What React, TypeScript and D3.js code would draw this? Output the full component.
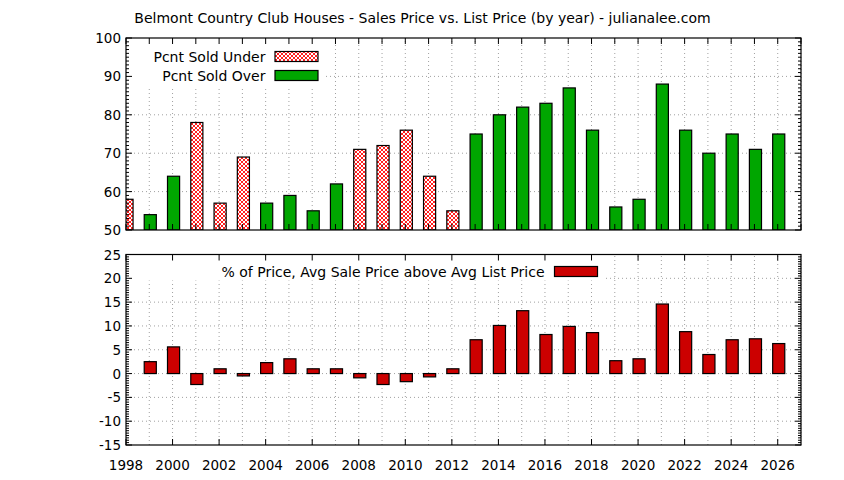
import { useMemo } from "react";
import * as d3 from "d3";

// top panel: percent of houses sold under / over list, per year
const years = [
  1998, 1999, 2000, 2001, 2002, 2003, 2004, 2005, 2006, 2007, 2008, 2009, 2010, 2011, 2012,
  2013, 2014, 2015, 2016, 2017, 2018, 2019, 2020, 2021, 2022, 2023, 2024, 2025, 2026,
];
const pcntSold = [
  58, 54, 64, 78, 57, 69, 57, 59, 55, 62, 71, 72, 76, 64, 55,
  75, 80, 82, 83, 87, 76, 56, 58, 88, 76, 70, 75, 71, 75,
];
const soldKind = [
  "under", "over", "over", "under", "under", "under", "over", "over", "over", "over",
  "under", "under", "under", "under", "under",
  "over", "over", "over", "over", "over", "over", "over", "over", "over", "over", "over", "over", "over", "over",
];

// bottom panel: avg sale price above avg list price, %
const premiumYears = [
  1999, 2000, 2001, 2002, 2003, 2004, 2005, 2006, 2007, 2008, 2009, 2010, 2011, 2012,
  2013, 2014, 2015, 2016, 2017, 2018, 2019, 2020, 2021, 2022, 2023, 2024, 2025, 2026,
];
const premiumPct = [
  2.5, 5.6, -2.3, 1.0, -0.5, 2.3, 3.1, 1.0, 1.0, -0.9, -2.3, -1.7, -0.7, 1.0,
  7.1, 10.1, 13.2, 8.2, 9.9, 8.6, 2.7, 3.1, 14.6, 8.8, 4.0, 7.1, 7.3, 6.3,
];

const topTicks = [50, 60, 70, 80, 90, 100];
const bottomTicks = [-15, -10, -5, 0, 5, 10, 15, 20, 25];
const xLabels = [1998, 2000, 2002, 2004, 2006, 2008, 2010, 2012, 2014, 2016, 2018, 2020, 2022, 2024, 2026];

const TITLE = "Belmont Country Club Houses - Sales Price vs. List Price (by year) - julianalee.com";
const FONT = "'DejaVu Sans', sans-serif";
const GREEN = "#00a600";
const RED = "#cc0000";
const GRID = "#a0a0a0";

const W = 844;
const H = 480;
const L = 126;
const R = 801;

export default function App() {
  const x = useMemo(() => d3.scaleLinear([1998, 2027], [L, R]), []);
  const yTop = useMemo(() => d3.scaleLinear([50, 100], [230, 38]), []);
  const yBot = useMemo(() => d3.scaleLinear([-15, 25], [445, 254.5]), []);
  const bw = x(1998.26) - x(1997.74);
  const allYears = d3.range(1998, 2028);

  const topMinor = d3.range(50, 101, 1);
  const botMinor = d3.range(-15, 25.01, 0.5);

  return (
    <svg
      width={W}
      height={H}
      style={{ position: "absolute", left: 0, top: 0, background: "#fff" }}
      fontFamily={FONT}
    >
      <defs>
        <pattern id="xhatch" width={4} height={4} patternUnits="userSpaceOnUse">
          <rect width={4} height={4} fill="#fff" />
          <path d="M0,0 L4,4 M4,0 L0,4" stroke="#ff2020" strokeWidth={1} />
        </pattern>
        <clipPath id="clipTop">
          <rect x={L} y={yTop(100)} width={R - L} height={yTop(50) - yTop(100)} />
        </clipPath>
        <clipPath id="clipBot">
          <rect x={L} y={yBot(25)} width={R - L} height={yBot(-15) - yBot(25)} />
        </clipPath>
      </defs>
      <rect width={W} height={H} fill="#fff" />

      <text x={W / 2 + 0.5} y={23} fontSize={14} textAnchor="middle" fill="#000">
        {TITLE}
      </text>

      {/* ---------- top panel ---------- */}
      <g>
        {allYears.slice(1).map((yr) => (
          <line key={`gv${yr}`} x1={x(yr)} x2={x(yr)} y1={yTop(50)} y2={yTop(100)}
            stroke={GRID} strokeDasharray="1,3" />
        ))}
        {topTicks.slice(1, -1).map((t) => (
          <line key={`gh${t}`} x1={L} x2={R} y1={yTop(t)} y2={yTop(t)}
            stroke={GRID} strokeDasharray="1,3" />
        ))}
        {/* legend area is opaque */}
        <rect x={L + 1} y={yTop(100) + 1} width={199} height={49} fill="#fff" />

        <g clipPath="url(#clipTop)">
          {years.map((yr, i) => (
            <rect key={`b${yr}`} x={x(yr) - bw / 2 + 1} y={yTop(pcntSold[i])} width={bw}
              height={yTop(50) - yTop(pcntSold[i])}
              fill={soldKind[i] === "under" ? "url(#xhatch)" : GREEN}
              stroke="#000" strokeWidth={1.2} />
          ))}
        </g>

        {allYears.map((yr) => (
          <g key={`tx${yr}`}>
            <line x1={x(yr)} x2={x(yr)} y1={yTop(50)} y2={yTop(50) - 6} stroke="#000" />
            <line x1={x(yr)} x2={x(yr)} y1={yTop(100)} y2={yTop(100) + 6} stroke="#000" />
          </g>
        ))}
        {topMinor.map((t) => {
          const len = t % 10 === 0 ? 6 : 3;
          return (
            <g key={`ty${t}`}>
              <line x1={L} x2={L + len} y1={yTop(t)} y2={yTop(t)} stroke="#000" />
              <line x1={R} x2={R - len} y1={yTop(t)} y2={yTop(t)} stroke="#000" />
            </g>
          );
        })}
        {topTicks.map((t) => (
          <text key={`tl${t}`} x={L - 5} y={yTop(t) + 5} fontSize={13.5} textAnchor="end" fill="#000">
            {t}
          </text>
        ))}
        <rect x={L} y={yTop(100)} width={R - L} height={yTop(50) - yTop(100)}
          fill="none" stroke="#000" strokeWidth={1.2} />

        <text x={265.5} y={61.5} fontSize={14} textAnchor="end" fill="#000">Pcnt Sold Under</text>
        <rect x={275} y={51.5} width={43} height={10} fill="url(#xhatch)" stroke="#000" strokeWidth={1.2} />
        <text x={265.5} y={80.5} fontSize={14} textAnchor="end" fill="#000">Pcnt Sold Over</text>
        <rect x={275} y={70.5} width={43} height={10} fill={GREEN} stroke="#000" strokeWidth={1.2} />
      </g>

      {/* ---------- bottom panel ---------- */}
      <g>
        {allYears.slice(1).map((yr) => (
          <line key={`bgv${yr}`} x1={x(yr)} x2={x(yr)} y1={yBot(-15)} y2={yBot(25)}
            stroke={GRID} strokeDasharray="1,3" />
        ))}
        {bottomTicks.slice(1, -1).map((t) => (
          <line key={`bgh${t}`} x1={L} x2={R} y1={yBot(t)} y2={yBot(t)}
            stroke={GRID} strokeDasharray="1,3" />
        ))}
        <rect x={L + 1} y={yBot(25) + 1} width={479} height={25} fill="#fff" />

        <g clipPath="url(#clipBot)">
          {premiumYears.map((yr, i) => {
            const v = premiumPct[i];
            return (
              <rect key={`p${yr}`} x={x(yr) - bw / 2 + 1} y={yBot(Math.max(v, 0))} width={bw}
                height={Math.abs(yBot(v) - yBot(0))} fill={RED} stroke="#000" strokeWidth={1.2} />
            );
          })}
        </g>

        {allYears.map((yr) => {
          if (yr % 2 !== 0) return null;
          return (
            <g key={`bx${yr}`}>
              <line x1={x(yr)} x2={x(yr)} y1={yBot(-15)} y2={yBot(-15) - 6} stroke="#000" />
              <line x1={x(yr)} x2={x(yr)} y1={yBot(25)} y2={yBot(25) + 6} stroke="#000" />
            </g>
          );
        })}
        {botMinor.map((t) => {
          const len = Math.abs(t % 5) < 0.001 ? 6 : 3;
          return (
            <g key={`by${t}`}>
              <line x1={L} x2={L + len} y1={yBot(t)} y2={yBot(t)} stroke="#000" />
              <line x1={R} x2={R - len} y1={yBot(t)} y2={yBot(t)} stroke="#000" />
            </g>
          );
        })}
        {bottomTicks.map((t) => (
          <text key={`bl${t}`} x={L - 5} y={yBot(t) + 5} fontSize={13.5} textAnchor="end" fill="#000">
            {t}
          </text>
        ))}
        {xLabels.map((yr) => (
          <text key={`xl${yr}`} x={x(yr)} y={470} fontSize={13.5} textAnchor="middle" fill="#000">
            {yr}
          </text>
        ))}
        <rect x={L} y={yBot(25)} width={R - L} height={yBot(-15) - yBot(25)}
          fill="none" stroke="#000" strokeWidth={1.2} />

        <text x={544.5} y={276.5} fontSize={14} textAnchor="end" fill="#000">
          % of Price, Avg Sale Price above Avg List Price
        </text>
        <rect x={554.5} y={266.5} width={43} height={10} fill={RED} stroke="#000" strokeWidth={1.2} />
      </g>
    </svg>
  );
}
